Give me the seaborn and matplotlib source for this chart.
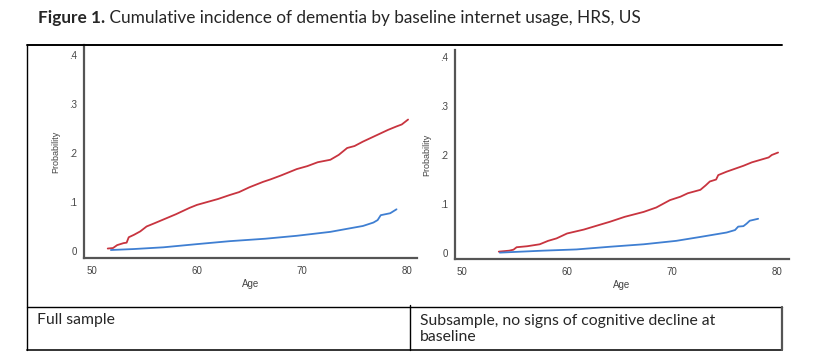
import matplotlib
matplotlib.use("Agg")
import matplotlib.pyplot as plt
import seaborn as sns
import pandas as pd
from matplotlib.lines import Line2D

# ---- data ----
full_red_age = [51.5, 52.0, 52.4, 53.0, 53.3, 53.5, 54.0, 54.6, 55.2, 56.0, 57.0, 58.0, 59.3, 60.0, 61.0,
                62.0, 63.1, 64.0, 65.0, 66.3, 67.0, 68.0, 69.5, 70.5, 71.5, 72.7, 73.5, 74.3, 75.0,
                75.8, 76.5, 77.4, 78.2, 79.0, 79.5, 80.1]
full_red_p = [0.005, 0.006, 0.012, 0.016, 0.017, 0.028, 0.033, 0.040, 0.050, 0.057, 0.066, 0.075, 0.088, 0.094, 0.100,
              0.106, 0.114, 0.120, 0.130, 0.141, 0.146, 0.154, 0.167, 0.173, 0.181, 0.186, 0.196, 0.210, 0.214,
              0.223, 0.230, 0.239, 0.247, 0.254, 0.258, 0.268]
full_blue_age = [51.8, 54.0, 56.8, 60.0, 63.1, 66.5, 69.5, 72.7, 74.5, 75.8, 76.8, 77.2, 77.5, 78.4, 79.0]
full_blue_p = [0.002, 0.004, 0.0075, 0.014, 0.020, 0.025, 0.031, 0.039, 0.046, 0.051, 0.058, 0.063, 0.073, 0.077, 0.085]

sub_red_age = [53.5, 54.5, 54.9, 55.2, 56.2, 57.4, 58.2, 59.0, 60.0, 61.6, 63.0, 64.1, 65.5, 67.3, 68.5,
               69.8, 70.8, 71.5, 72.7, 73.2, 73.6, 74.2, 74.4, 75.2, 76.0, 76.8, 77.6, 78.4, 79.2, 79.5, 80.1]
sub_red_p = [0.003, 0.005, 0.007, 0.012, 0.014, 0.018, 0.025, 0.030, 0.040, 0.048, 0.057, 0.064, 0.074, 0.084, 0.093,
             0.108, 0.115, 0.122, 0.129, 0.138, 0.146, 0.150, 0.159, 0.166, 0.172, 0.178, 0.185, 0.190, 0.195, 0.200, 0.205]
sub_blue_age = [53.6, 57.7, 60.9, 64.1, 67.3, 70.4, 72.7, 75.2, 76.0, 76.3, 76.8, 77.1, 77.4, 78.2]
sub_blue_p = [0.001, 0.005, 0.0075, 0.013, 0.018, 0.025, 0.033, 0.042, 0.047, 0.054, 0.055, 0.060, 0.066, 0.070]

y_ticks = [0, 0.1, 0.2, 0.3, 0.4]
y_ticklabels = ["0", ".1", ".2", ".3", ".4"]
x_ticks = [50, 60, 70, 80]
x_ticklabels = ["50", "60", "70", "80"]

title_bold = "Figure 1."
title_rest = " Cumulative incidence of dementia by baseline internet usage, HRS, US"
cell_left = "Full sample"
cell_right = "Subsample, no signs of cognitive decline at\nbaseline"

RED = "#c8343f"
BLUE = "#3f7fd2"

sns.set_style("white")
plt.rcParams["font.family"] = ["Liberation Sans", "DejaVu Sans"]

W, H = 831, 360
fig = plt.figure(figsize=(W / 100, H / 100), dpi=100)


def fx(px):
    return px / W


def fy(py):
    return 1 - py / H


def make_panel(rect, xlim, ylim, red_age, red_p, blue_age, blue_p, ylabelpad):
    l, t, r, b = rect
    ax = fig.add_axes([fx(l), fy(b), fx(r - l), (b - t) / H])
    dr = pd.DataFrame({"Age": red_age, "Probability": red_p})
    db = pd.DataFrame({"Age": blue_age, "Probability": blue_p})
    sns.lineplot(data=dr, x="Age", y="Probability", ax=ax, color=RED, lw=1.3)
    sns.lineplot(data=db, x="Age", y="Probability", ax=ax, color=BLUE, lw=1.3)
    ax.set_xlim(*xlim)
    ax.set_ylim(*ylim)
    ax.set_xticks(x_ticks)
    ax.set_xticklabels(x_ticklabels)
    ax.set_yticks(y_ticks)
    ax.set_yticklabels(y_ticklabels)
    for s in ["top", "right"]:
        ax.spines[s].set_visible(False)
    for s in ["left", "bottom"]:
        ax.spines[s].set_color("#555555")
        ax.spines[s].set_linewidth(1.6)
    ax.tick_params(axis="both", length=0, labelsize=7, labelcolor="#444444")
    ax.tick_params(axis="x", pad=6)
    ax.tick_params(axis="y", pad=5)
    ax.set_xlabel("Age", fontsize=7, color="#444444", labelpad=2)
    ax.set_ylabel("Probability", fontsize=6.5, color="#444444", labelpad=ylabelpad)
    ax.patch.set_alpha(0)
    return ax


make_panel((84, 45, 417, 258), (49.24, 80.95), (-0.0143, 0.420),
           full_red_age, full_red_p, full_blue_age, full_blue_p, 6)
make_panel((455, 50, 789, 259), (49.33, 81.14), (-0.012, 0.414),
           sub_red_age, sub_red_p, sub_blue_age, sub_blue_p, 6)

# table lines
def hline(y, x0, x1, lw=1.3, c="black"):
    fig.add_artist(Line2D([fx(x0), fx(x1)], [fy(y), fy(y)], color=c, lw=lw, transform=fig.transFigure))


def vline(x, y0, y1, lw=1.0, c="black"):
    fig.add_artist(Line2D([fx(x), fx(x)], [fy(y0), fy(y1)], color=c, lw=lw, transform=fig.transFigure))


hline(45, 27, 782, lw=1.4)
hline(307, 27, 782, lw=1.0)
hline(350, 27, 782, lw=1.4, c="#333333")
vline(27, 45, 350, lw=1.0)
vline(410, 305, 350, lw=1.0)
vline(782, 307, 350, lw=1.6, c="#555555")

# title
tf = ["Lato", "DejaVu Sans"]
t1 = fig.text(fx(38), fy(18), title_bold, fontsize=12.4, fontweight="bold", family=tf, va="center", ha="left")
fig.canvas.draw()
bb = t1.get_window_extent()
fig.text(bb.x1 / W, fy(18), title_rest, fontsize=12.4, family=tf, va="center", ha="left")

fig.text(fx(37), fy(320), cell_left, fontsize=11.3, family=tf, va="center", ha="left")
fig.text(fx(420), fy(329), cell_right, fontsize=11.3, family=tf, va="center", ha="left", linespacing=1.15)

fig.savefig("out.png", dpi=100)
